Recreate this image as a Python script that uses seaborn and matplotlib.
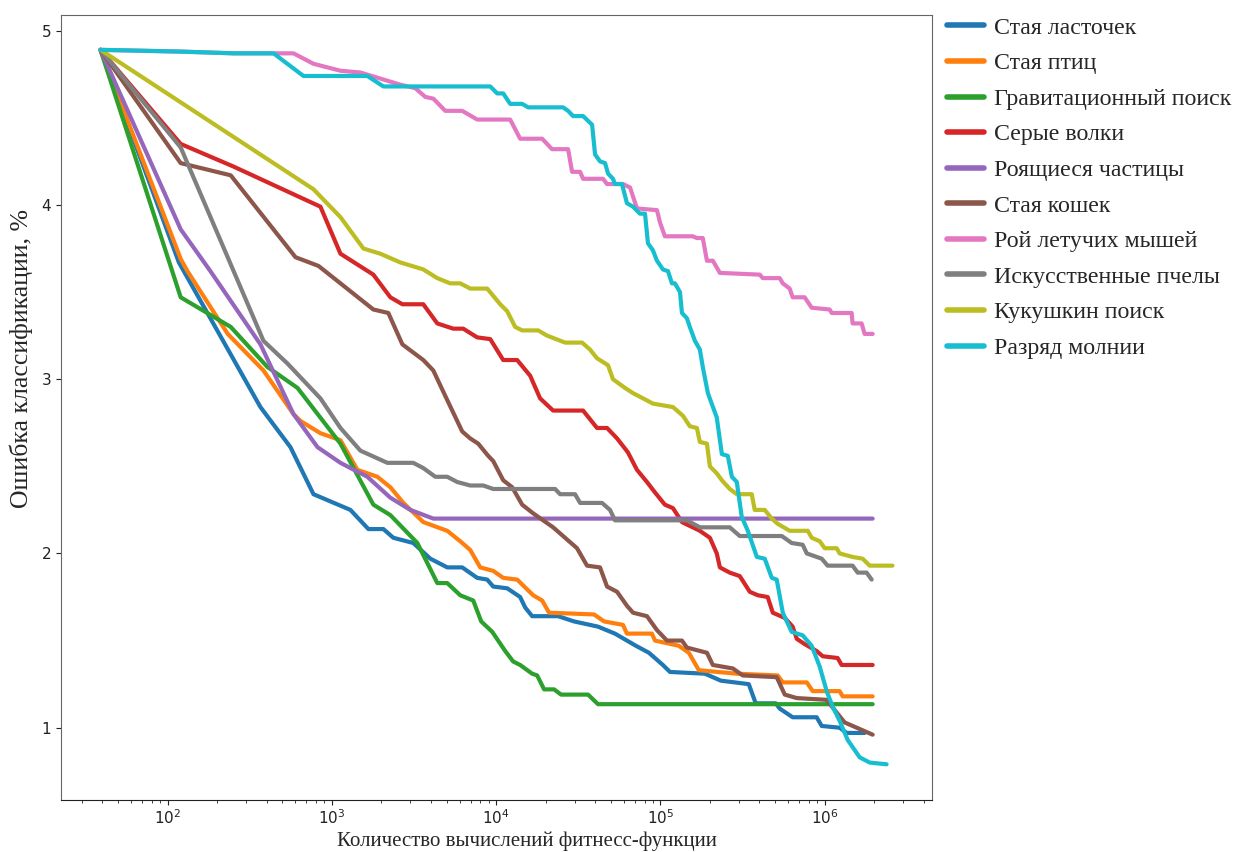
import numpy as np
import pandas as pd
import matplotlib
matplotlib.use("Agg")
import matplotlib.pyplot as plt
import seaborn as sns

# --- Convergence data: fitness evaluations vs. classification error, % ---
methods = [
    "Стая ласточек",
    "Стая птиц",
    "Гравитационный поиск",
    "Серые волки",
    "Роящиеся частицы",
    "Стая кошек",
    "Рой летучих мышей",
    "Искусственные пчелы",
    "Кукушкин поиск",
    "Разряд молнии",
]

swallow_x = [39, 117, 367, 559, 772, 1295, 1667, 2057, 2365, 3128, 3972, 5036, 6212, 7663,
             8818, 9596, 11670, 13990, 15010, 16560, 23820, 29790, 41690, 52840, 70960,
             85110, 103500, 114300, 186600, 233300, 345100, 380200, 503500, 532100, 638300,
             893500, 959400, 1.233e6, 1.361e6, 1.75e6]
swallow_y = [4.89, 3.67, 2.84, 2.61, 2.34, 2.25, 2.14, 2.14, 2.09, 2.06, 1.97, 1.92, 1.92, 1.86,
             1.85, 1.81, 1.80, 1.75, 1.69, 1.64, 1.64, 1.61, 1.58, 1.54, 1.47,
             1.43, 1.36, 1.32, 1.31, 1.27, 1.25, 1.14, 1.14, 1.11, 1.06,
             1.06, 1.01, 1.00, 0.97, 0.97]

birds_x = [39, 120, 132, 232, 383, 583, 644, 851, 1127, 1429, 1891, 2268, 2722, 3599, 5036,
           6043, 6950, 7996, 9596, 11035, 13420, 16800, 19040, 20990, 39450, 45390, 59160,
           62520, 88720, 92680, 129500, 148900, 171400, 291700, 517600, 555900, 778000,
           845300, 1.233e6, 1.286e6, 1.959e6]
birds_y = [4.89, 3.69, 3.62, 3.26, 3.05, 2.80, 2.76, 2.69, 2.65, 2.48, 2.44, 2.38, 2.29, 2.18, 2.13,
           2.07, 2.02, 1.92, 1.90, 1.86, 1.85, 1.76, 1.73, 1.66, 1.65, 1.61, 1.59,
           1.54, 1.54, 1.50, 1.47, 1.43, 1.33, 1.31, 1.30, 1.26, 1.26,
           1.21, 1.21, 1.18, 1.18]

gravity_x = [39, 120, 242, 405, 617, 1127, 1787, 2268, 3311, 4380, 5036, 6043, 7249, 8107,
             9463, 11350, 12690, 13990, 16560, 17760, 19580, 22520, 24840, 36250, 41690, 1.959e6]
gravity_y = [4.89, 3.47, 3.30, 3.07, 2.95, 2.63, 2.28, 2.22, 2.06, 1.83, 1.83, 1.76, 1.73, 1.61,
             1.55, 1.44, 1.38, 1.36, 1.31, 1.30, 1.22, 1.22, 1.19, 1.19, 1.135, 1.135]

wolves_x = [39, 120, 252, 851, 1127, 1787, 2268, 2684, 3599, 4380, 5478, 6300, 7663, 9200,
            11035, 13420, 16100, 18510, 22210, 33810, 41110, 47310, 54450, 63400, 71950,
            82790, 92680, 106400, 119200, 135200, 173800, 200000, 220300, 230100, 264300,
            304100, 349900, 391700, 449800, 483100, 571500, 638300, 676100, 755100, 893500,
            972800, 1.199e6, 1.268e6, 1.959e6]
wolves_y = [4.89, 4.35, 4.22, 3.99, 3.72, 3.60, 3.47, 3.43, 3.43, 3.32, 3.29, 3.29, 3.24, 3.23,
            3.11, 3.11, 3.02, 2.89, 2.82, 2.82, 2.72, 2.72, 2.66, 2.58, 2.48,
            2.41, 2.35, 2.28, 2.26, 2.18, 2.13, 2.09, 2.00, 1.92, 1.89,
            1.87, 1.78, 1.76, 1.75, 1.66, 1.63, 1.58, 1.51, 1.48, 1.44,
            1.41, 1.40, 1.36, 1.36]

particles_x = [39, 120, 182, 367, 583, 817, 1127, 1643, 2268, 3001, 4142, 1.959e6]
particles_y = [4.89, 3.86, 3.62, 3.20, 2.80, 2.61, 2.52, 2.44, 2.32, 2.25, 2.20, 2.20]

cats_x = [39, 120, 242, 600, 828, 1127, 1787, 2205, 2684, 3599, 4142, 5036, 6212, 6950, 7775,
          8941, 9596, 11035, 12510, 14390, 16800, 22210, 31060, 35740, 42870, 47310, 54450,
          62520, 68080, 82790, 95280, 109600, 135200, 144900, 191900, 208500, 276000,
          317000, 510500, 571500, 676100, 1.028e6, 1.199e6, 1.324e6, 1.567e6, 1.959e6]
cats_y = [4.89, 4.24, 4.17, 3.70, 3.65, 3.55, 3.40, 3.38, 3.20, 3.11, 3.05, 2.88, 2.70, 2.66, 2.63,
          2.56, 2.53, 2.42, 2.38, 2.28, 2.23, 2.15, 2.03, 1.93, 1.92, 1.81, 1.78,
          1.70, 1.66, 1.64, 1.56, 1.50, 1.50, 1.46, 1.43, 1.36, 1.34,
          1.30, 1.29, 1.19, 1.17, 1.16, 1.08, 1.03, 1.00, 0.96]

bats_x = [39, 120, 252, 583, 772, 1127, 1490, 2609, 3219, 3701, 4142, 4898, 6212, 7663, 12170,
          13990, 19040, 21880, 27400, 28980, 32420, 33810, 44690, 47310, 59160, 65310,
          71950, 95280, 99310, 106400, 157500, 166700, 181100, 191900, 208500, 230100,
          402700, 419800, 532100, 555900, 612400, 638300, 755100, 833700, 1.072e6,
          1.104e6, 1.459e6, 1.479e6, 1.679e6, 1.75e6, 1.959e6]
bats_y = [4.89, 4.88, 4.87, 4.87, 4.81, 4.77, 4.76, 4.69, 4.67, 4.62, 4.61, 4.54, 4.54, 4.49, 4.49,
          4.38, 4.38, 4.32, 4.32, 4.19, 4.19, 4.15, 4.15, 4.12, 4.12, 4.10,
          3.98, 3.97, 3.90, 3.82, 3.82, 3.81, 3.81, 3.68, 3.68, 3.61,
          3.60, 3.58, 3.58, 3.55, 3.52, 3.47, 3.47, 3.41, 3.40,
          3.38, 3.38, 3.32, 3.32, 3.26, 3.26]

bees_x = [39, 120, 383, 536, 851, 1127, 1490, 2175, 3128, 3599, 4260, 5036, 5795, 6950, 8340,
          9596, 22850, 24490, 30210, 32420, 44070, 49320, 52840, 144900, 173800, 264300,
          304100, 548300, 629500, 734500, 778000, 959400, 1.042e6, 1.479e6, 1.588e6,
          1.799e6, 1.932e6]
bees_y = [4.89, 4.33, 3.22, 3.09, 2.89, 2.72, 2.59, 2.52, 2.52, 2.49, 2.44, 2.44, 2.41, 2.39, 2.39,
          2.37, 2.37, 2.34, 2.34, 2.29, 2.29, 2.25, 2.19, 2.19, 2.15, 2.15,
          2.10, 2.10, 2.06, 2.05, 2.00, 1.97, 1.93, 1.93, 1.89,
          1.89, 1.85]

cuckoo_x = [39, 772, 1127, 1554, 1972, 2609, 3599, 4380, 5251, 6043, 6950, 8818, 10580, 11670,
            13050, 14390, 18010, 20420, 26260, 33340, 37270, 41110, 47970, 51400, 60810,
            68080, 78340, 89950, 119200, 137100, 151000, 166700, 173800, 191900, 200000,
            220300, 236600, 264300, 291700, 359700, 375000, 431500, 476400, 517600, 612400,
            788900, 833700, 933300, 1.0e6, 1.183e6, 1.233e6, 1.479e6, 1.702e6, 1.879e6,
            2.588e6]
cuckoo_y = [4.89, 4.09, 3.93, 3.75, 3.72, 3.67, 3.63, 3.58, 3.55, 3.55, 3.52, 3.52, 3.43, 3.39,
            3.30, 3.28, 3.28, 3.25, 3.21, 3.21, 3.17, 3.12, 3.08, 3.00, 2.95,
            2.92, 2.89, 2.86, 2.84, 2.79, 2.73, 2.72, 2.64, 2.63, 2.50,
            2.46, 2.42, 2.37, 2.34, 2.34, 2.25, 2.25, 2.20, 2.17, 2.13,
            2.13, 2.09, 2.07, 2.03, 2.03, 2.00, 1.98, 1.97, 1.93,
            1.93]

lightning_x = [39, 120, 252, 441, 671, 1643, 2057, 9200, 10146, 11035, 12170, 14390, 15650,
               25540, 27400, 29380, 33810, 38370, 39990, 42870, 46020, 47970, 51400, 52840,
               58340, 62520, 68080, 74990, 80540, 83950, 89950, 95280, 103500, 111200,
               117500, 122500, 131500, 135200, 144900, 151000, 162200, 173800, 181100,
               194500, 220300, 236600, 257200, 272300, 291700, 312600, 340400, 386400,
               431500, 476400, 510500, 555900, 629500, 734500, 833700, 933300, 1.028e6,
               1.119e6, 1.233e6, 1.380e6, 1.633e6, 1.879e6, 2.382e6]
lightning_y = [4.89, 4.88, 4.87, 4.87, 4.74, 4.74, 4.68, 4.68, 4.64, 4.64, 4.58, 4.58, 4.56,
               4.56, 4.54, 4.51, 4.51, 4.46, 4.29, 4.25, 4.24, 4.18, 4.15, 4.12,
               4.12, 4.01, 3.99, 3.95, 3.95, 3.78, 3.74, 3.68, 3.63, 3.62,
               3.55, 3.55, 3.50, 3.38, 3.35, 3.30, 3.22, 3.17, 3.07,
               2.92, 2.78, 2.57, 2.56, 2.44, 2.41, 2.21, 2.13, 1.98,
               1.97, 1.86, 1.85, 1.66, 1.55, 1.53, 1.47, 1.35, 1.21,
               1.12, 1.04, 0.93, 0.83, 0.80, 0.79]

series = [
    (swallow_x, swallow_y), (birds_x, birds_y), (gravity_x, gravity_y),
    (wolves_x, wolves_y), (particles_x, particles_y), (cats_x, cats_y),
    (bats_x, bats_y), (bees_x, bees_y), (cuckoo_x, cuckoo_y),
    (lightning_x, lightning_y),
]

frames = []
for name, (xs, ys) in zip(methods, series):
    frames.append(pd.DataFrame({"evals": xs, "error": ys, "method": name}))
df = pd.concat(frames, ignore_index=True)

# --- Figure ---
sns.set_style("ticks")
plt.rcParams["font.family"] = ["DejaVu Sans"]
plt.rcParams["xtick.labelsize"] = 11
plt.rcParams["ytick.labelsize"] = 11

fig = plt.figure(figsize=(12.39, 8.52), dpi=100)
ax = fig.add_axes([0.0492, 0.0610, 0.7030, 0.9214])

palette = sns.color_palette("tab10", n_colors=len(methods))
sns.lineplot(data=df, x="evals", y="error", hue="method", hue_order=methods,
             palette=palette, estimator=None, sort=False, units="method",
             linewidth=3.0, ax=ax)

ax.set_xscale("log")
ax.set_xlim(22.4, 4.5e6)
ax.set_ylim(0.585, 5.09)
ax.set_yticks([1, 2, 3, 4, 5])
ax.tick_params(axis="both", which="major", length=3.5, width=0.8, colors="#222222")
ax.tick_params(axis="x", which="major", pad=2.5)
ax.tick_params(axis="x", which="minor", length=2, width=0.6, colors="#222222")

for side in ["top", "right", "left"]:
    ax.spines[side].set_color("#666666")
ax.spines["bottom"].set_color("#222222")

serif = ["Liberation Serif", "DejaVu Serif"]
ax.set_xlabel("Количество вычислений фитнесс-функции", fontsize=15, family=serif)
ax.set_ylabel("Ошибка классификации, %", fontsize=18.5, family=serif)
ax.xaxis.set_label_coords(0.535, -0.040)
ax.yaxis.set_label_coords(-0.032, 0.562)

handles, labels = ax.get_legend_handles_labels()
ax.get_legend().remove()
leg = fig.legend(handles, labels, loc="upper left",
                 bbox_to_anchor=(947 / 1239, 1 - 17 / 852),
                 frameon=False, borderpad=0, borderaxespad=0,
                 handlelength=1.55, handletextpad=0.42, labelspacing=0.58,
                 prop={"family": serif, "size": 17.2})
for line in leg.get_lines():
    line.set_linewidth(4)

fig.savefig("out.png", dpi=100)
